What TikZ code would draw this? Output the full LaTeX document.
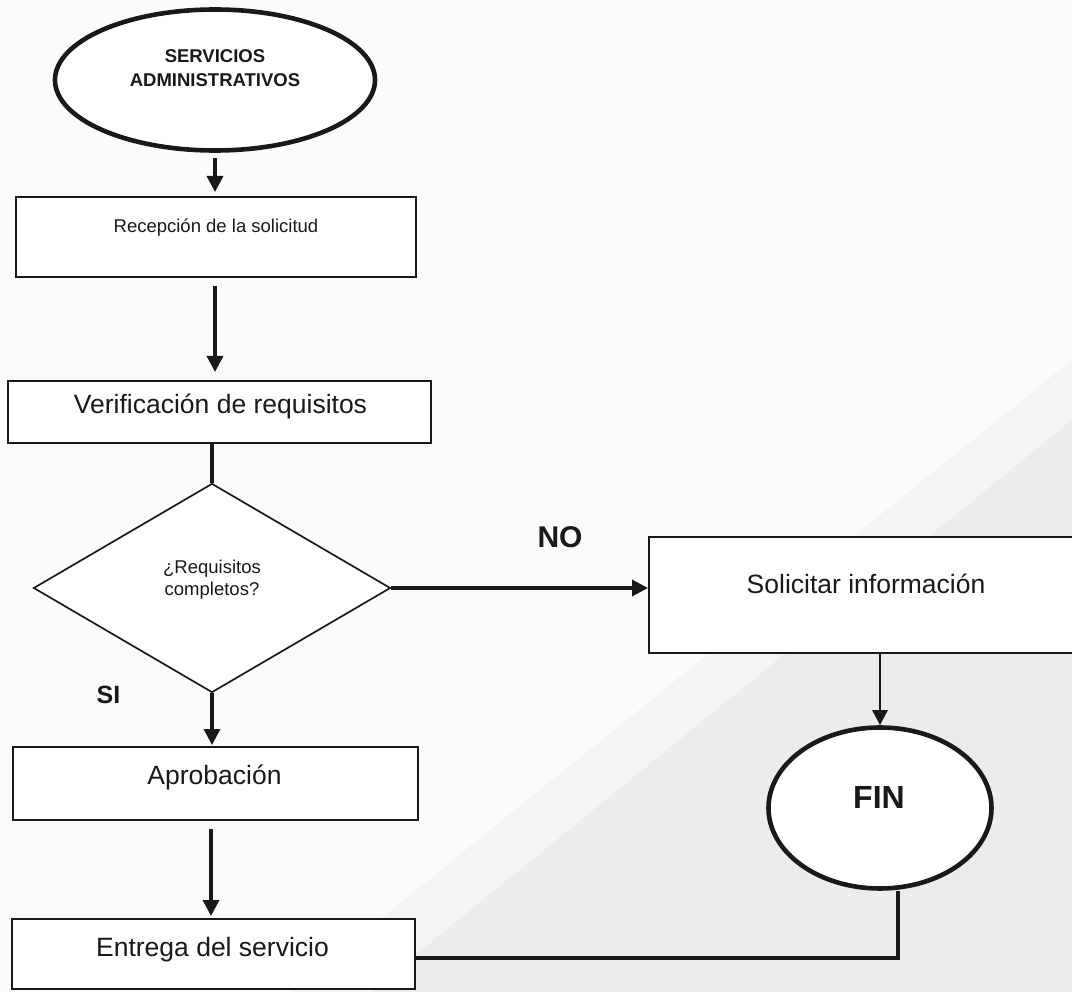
\documentclass[tikz,border=0pt]{standalone}
\usepackage{fontspec}
\setmainfont{Liberation Sans}
\usetikzlibrary{shapes.geometric,arrows.meta,calc}
\definecolor{paper}{RGB}{251,251,251}
\definecolor{papergrey}{RGB}{236,236,239}
\definecolor{papermid}{RGB}{244,244,246}
\definecolor{ink}{RGB}{25,25,25}
\begin{document}
\begin{tikzpicture}[x=1pt,y=-1pt,
  box/.style={draw=ink, line width=2pt, fill=white, inner sep=0pt, rectangle},
  oval/.style={draw=ink, line width=4.6pt, fill=white, ellipse, inner sep=0pt},
  decision/.style={draw=ink, line width=1.7pt, fill=white, diamond, inner sep=0pt},
  txt/.style={inner sep=0pt, anchor=base, text=ink},
  small/.style={font=\fontsize{18.5}{22}\selectfont},
  big/.style={font=\fontsize{26.5}{30}\selectfont},
  arr/.style={draw=ink, line width=3.4pt, -{Triangle[length=16pt,width=16pt]}},
  conn/.style={draw=ink, line width=3.2pt}]
\useasboundingbox (0,0) rectangle (1072,992);
\fill[paper] (0,0) rectangle (1072,992);
\fill[papermid] (290,992) -- (1072,360) -- (1072,992) -- cycle;
\fill[papergrey] (370,992) -- (1072,420) -- (1072,992) -- cycle;

% nodes
\node[oval, minimum width=320pt, minimum height=141pt] (start) at (215,80) {};
\node[txt, font=\fontsize{18.5}{22}\selectfont\bfseries] (t1a) at (215,63) {SERVICIOS};
\node[txt, font=\fontsize{18.5}{22}\selectfont\bfseries] (t1b) at (215,87) {ADMINISTRATIVOS};

\node[box, minimum width=400pt, minimum height=80pt] (recep) at (216,237) {};
\node[txt, small] (t2) at (216,233) {Recepción de la solicitud};

\node[box, minimum width=423pt, minimum height=62pt] (verif) at (219.5,412) {};
\node[txt, big] (t3) at (220.5,414) {Verificación de requisitos};

\node[decision, minimum width=357pt, minimum height=209pt] (diam) at (212,588) {};
\node[txt, small] (t4a) at (212,573) {¿Requisitos};
\node[txt, small] (t4b) at (212,595) {completos?};

\node[txt, font=\fontsize{25}{28}\selectfont\bfseries] (si) at (108.5,703) {SI};
\node[txt, font=\fontsize{30}{34}\selectfont\bfseries] (no) at (560,547) {NO};

\node[box, minimum width=405pt, minimum height=73pt] (aprob) at (215.5,783.5) {};
\node[txt, big] (t5) at (214.5,784) {Aprobación};

\node[box, minimum width=403pt, minimum height=70pt] (entrega) at (213.5,954) {};
\node[txt, big] (t6) at (212.5,956) {Entrega del servicio};

\node[box, minimum width=436pt, minimum height=116pt] (solic) at (867,595) {};
\node[txt, big] (t7) at (866,593) {Solicitar información};

\node[oval, minimum width=223pt, minimum height=161pt] (fin) at (880,808) {};
\node[txt, font=\fontsize{32}{36}\selectfont\bfseries] (t8) at (879,808) {FIN};

\coordinate (j) at (898,958);

% connectors
\draw[arr, shorten <=5pt, shorten >=4pt] (start.south) -- (start.south |- recep.north);
\draw[arr, shorten <=8pt, shorten >=8pt] (recep.south -| 215,0) -- (verif.north -| 215,0);
\draw[conn] (diam.north |- verif.south) -- (diam.north);
\draw[arr, shorten >=1pt] (diam.south) -- (diam.south |- aprob.north);
\draw[arr, shorten <=8pt, shorten >=2pt] (aprob.south -| 211,0) -- (entrega.north -| 211,0);
\draw[arr] (diam.east) -- (diam.east -| solic.west);
\draw[arr, line width=2.8pt, -{Triangle[length=15pt,width=15pt]}] (fin.north |- solic.south) -- (fin.north);
\draw[conn] (fin.south -| j) -- (j) -- (entrega.east |- j);
\end{tikzpicture}
\end{document}
